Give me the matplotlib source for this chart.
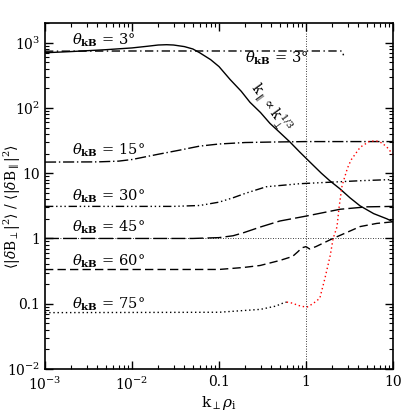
import matplotlib
matplotlib.use("Agg")
import matplotlib.pyplot as plt
from matplotlib.ticker import FixedLocator, FixedFormatter, LogLocator, NullFormatter

plt.rcParams['font.family'] = ['DejaVu Serif']
plt.rcParams['mathtext.fontset'] = 'dejavuserif'

# ---- data ----
x_s3 = [0.001, 0.002, 0.005, 0.01, 0.015, 0.02, 0.025, 0.03, 0.04, 0.05, 0.06, 0.08, 0.1,
        0.134, 0.18, 0.227, 0.3, 0.385, 0.5, 0.655, 0.85, 1.11, 1.5, 1.89, 2.46, 3.2, 4.18, 6.0, 8.5, 10]
y_s3 = [700, 730, 780, 830, 880, 920, 930, 920, 870, 800, 700, 550, 430,
        273, 180, 122, 85, 58, 42, 30, 21, 14.8, 10, 7.6, 5.75, 4.2, 3.16, 2.4, 2.0, 1.8]

x_d3 = [0.001, 0.01, 0.1, 1.0, 2.6, 2.7]
y_d3 = [740, 745, 745, 745, 745, 640]

x_15 = [0.001, 0.004, 0.007, 0.01, 0.02, 0.035, 0.06, 0.1, 0.2, 0.4, 1.0, 10]
y_15 = [14.8, 14.9, 15.3, 16.2, 19.5, 22.5, 26, 28, 29.5, 30, 30.5, 30.5]

x_30 = [0.001, 0.03, 0.06, 0.1, 0.145, 0.2, 0.23, 0.35, 0.85, 2.0, 4.5, 10]
y_30 = [3.1, 3.1, 3.2, 3.6, 4.2, 4.9, 5.2, 6.2, 6.9, 7.3, 7.7, 8.0]

x_45 = [0.001, 0.05, 0.1, 0.145, 0.19, 0.3, 0.5, 1.0, 2.46, 5.0, 10]
y_45 = [1.0, 1.0, 1.03, 1.1, 1.22, 1.5, 1.85, 2.2, 2.8, 3.05, 3.1]

x_60 = [0.001, 0.1, 0.19, 0.296, 0.5, 0.7, 0.8, 0.9, 1.0, 1.1, 1.3, 2.04, 3.0, 4.18, 6.5, 10]
y_60 = [0.334, 0.335, 0.359, 0.385, 0.46, 0.53, 0.62, 0.72, 0.75, 0.69, 0.75, 1.0, 1.25, 1.52, 1.7, 1.8]

x_75 = [0.001, 0.1, 0.3, 0.45, 0.55, 0.6]
y_75 = [0.073, 0.074, 0.082, 0.092, 0.103, 0.106]

x_red = [0.6, 0.7, 0.8, 0.9, 1.03, 1.2, 1.44, 1.65, 1.9, 2.05, 2.27, 2.4, 2.6, 3.0, 3.3,
         4.2, 5.4, 6.5, 7.5, 8.8, 10]
y_red = [0.106, 0.102, 0.095, 0.091, 0.089, 0.10, 0.121, 0.245, 0.55, 1.0, 1.5, 3.0, 6.5, 12, 16,
         25, 31, 31, 29, 24, 19]

labels = [r'$\theta_{\mathbf{kB}}$ = 3$\degree$', r'$\theta_{\mathbf{kB}}$ = 15$\degree$',
          r'$\theta_{\mathbf{kB}}$ = 30$\degree$', r'$\theta_{\mathbf{kB}}$ = 45$\degree$',
          r'$\theta_{\mathbf{kB}}$ = 60$\degree$', r'$\theta_{\mathbf{kB}}$ = 75$\degree$']
label_x = [0.00205] * 6
label_y = [930, 19.6, 3.77, 1.27, 0.385, 0.085]

xticks = [1e-3, 1e-2, 0.1, 1, 10]
xticklabels = [r'10$^{-3}$', r'10$^{-2}$', '0.1', '1', '10']
yticks = [1e-2, 0.1, 1, 10, 100, 1000]
yticklabels = [r'10$^{-2}$', '0.1', '1', '10', r'10$^2$', r'10$^3$']

# ---- figure ----
fig = plt.figure(figsize=(4.15, 4.15), dpi=100)
ax = fig.add_axes([45/415, 46/415, 348/415, 346/415])
ax.set_xscale('log')
ax.set_yscale('log')
ax.set_xlim(1e-3, 10)
ax.set_ylim(1e-2, 2000)

lw = 1.0
ax.plot(x_s3, y_s3, color='black', lw=lw, ls='-')
ax.plot(x_d3, y_d3, color='black', lw=lw, ls=(0, (6, 2.5, 1, 2.5)))
ax.plot(x_15, y_15, color='black', lw=lw, ls=(0, (8, 2, 1, 2)))
ax.plot(x_30, y_30, color='black', lw=lw, ls=(0, (6, 2, 1, 2, 1, 2, 1, 2)))
ax.plot(x_45, y_45, color='black', lw=lw, ls=(0, (10, 3)))
ax.plot(x_60, y_60, color='black', lw=lw, ls=(0, (6, 3)))
ax.plot(x_75, y_75, color='black', lw=lw, ls=(0, (1, 2)))
ax.plot(x_red, y_red, color='red', lw=lw, ls=(0, (1, 2)))

ax.axvline(1, color='black', lw=0.6, ls=(0, (1, 2)))
ax.axhline(1, color='black', lw=0.6, ls=(0, (1, 2)))

for t, xx, yy in zip(labels, label_x, label_y):
    ax.text(xx, yy, t, fontsize=10.5, ha='left', va='baseline')
ax.text(0.199, 495, labels[0], fontsize=10.5, ha='left', va='baseline')

ax.text(0.396, 99, r'k$_\parallel\propto$k$_\perp^{1/3}$', fontsize=10,
        rotation=-54, ha='center', va='center', rotation_mode='anchor')

ax.xaxis.set_major_locator(FixedLocator(xticks))
ax.xaxis.set_major_formatter(FixedFormatter(xticklabels))
ax.yaxis.set_major_locator(FixedLocator(yticks))
ax.yaxis.set_major_formatter(FixedFormatter(yticklabels))
ax.xaxis.set_minor_locator(LogLocator(base=10, subs=range(2, 10), numticks=20))
ax.yaxis.set_minor_locator(LogLocator(base=10, subs=range(2, 10), numticks=20))
ax.xaxis.set_minor_formatter(NullFormatter())
ax.yaxis.set_minor_formatter(NullFormatter())
ax.tick_params(which='both', direction='in', top=True, right=True, labelsize=10)
ax.tick_params(which='major', length=6, width=1)
ax.tick_params(which='minor', length=3, width=0.8)
ax.tick_params(axis='x', which='major', pad=4.5)
for s in ax.spines.values():
    s.set_linewidth(1.2)

ax.set_xlabel(r'k$_\perp\rho_{\rm i}$', fontsize=11, labelpad=1)
ax.set_ylabel(r'$\langle|\delta$B$_\perp|^2\rangle$ / $\langle|\delta$B$_\parallel|^2\rangle$', fontsize=10)
ax.yaxis.set_label_coords(-0.064, 0.468)

fig.savefig('out.png', dpi=100)
